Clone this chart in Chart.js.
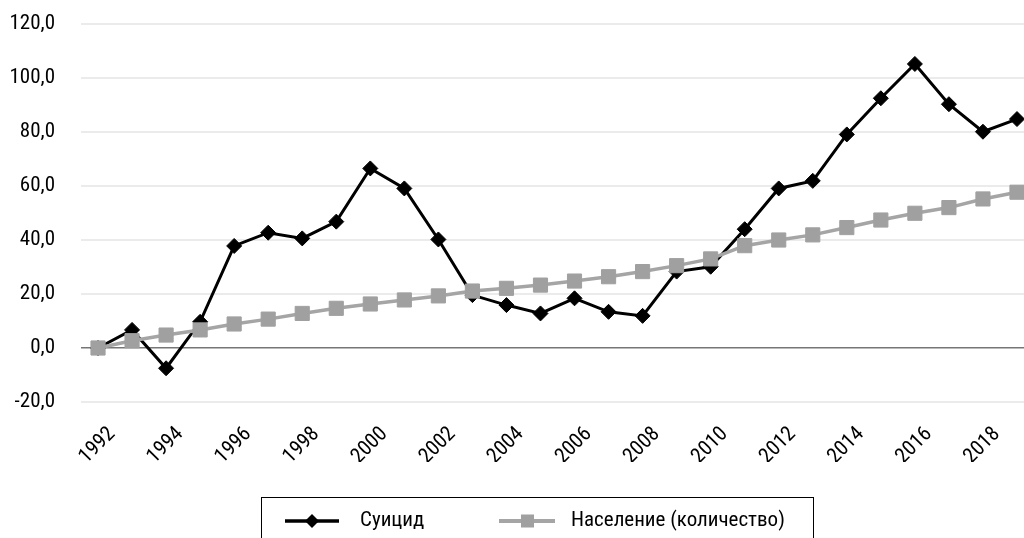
<!DOCTYPE html>
<html>
<head>
<meta charset="utf-8">
<script src="https://cdn.jsdelivr.net/npm/chart.js@4.4.0/dist/chart.umd.min.js"></script>
<style>
  html, body { margin: 0; padding: 0; background: #fff; overflow: hidden; width: 1024px; height: 538px; }
  canvas { position: absolute; left: 0; top: 0; }
</style>
</head>
<body>
<canvas id="chartCanvas" width="1047" height="560"></canvas>
<script>
// данные (годы 1992-2019)
const years = [1992, 1993, 1994, 1995, 1996, 1997, 1998, 1999, 2000, 2001, 2002, 2003, 2004, 2005,
               2006, 2007, 2008, 2009, 2010, 2011, 2012, 2013, 2014, 2015, 2016, 2017, 2018, 2019];
const suicide = [0, 6.7, -7.5, 9.7, 37.8, 42.7, 40.6, 46.8, 66.5, 59.1, 40.2, 19.6, 15.9, 12.8,
                 18.4, 13.4, 11.9, 28.3, 30.1, 44.0, 59.1, 61.9, 79.1, 92.5, 105.2, 90.3, 80.1, 84.8];
const population = [0, 2.7, 4.8, 6.7, 8.9, 10.7, 12.8, 14.7, 16.3, 17.8, 19.3, 21.1, 22.1, 23.3,
                    24.8, 26.4, 28.3, 30.5, 33.0, 37.9, 40.0, 41.9, 44.6, 47.4, 49.9, 52.0, 55.2, 57.7];
const seriesNames = ['Суицид', 'Население (количество)'];
const yMin = -20, yMax = 120, yStep = 20;

// узкий шрифт: Roboto с font-stretch condensed (через поле weight)
const FONT = 'Roboto, sans-serif';
const STRETCH = 'condensed';
const BLACK = '#000000';
const GRAY = '#a5a5a5';

// легенда в рамке (рисуем сами, как в Excel)
const legendBox = {
  id: 'legendBox',
  afterDraw(chart) {
    const c = chart.ctx;
    const ds = chart.data.datasets;
    c.save();
    c.strokeStyle = '#000';
    c.lineWidth = 1;
    c.strokeRect(261.5, 497.5, 552, 60);

    const cy = 521;
    // Суицид
    c.strokeStyle = ds[1].borderColor;
    c.lineWidth = 3.5;
    c.beginPath(); c.moveTo(285, cy); c.lineTo(339, cy); c.stroke();
    c.fillStyle = ds[1].backgroundColor;
    c.beginPath();
    c.moveTo(312, cy - 7); c.lineTo(319, cy); c.lineTo(312, cy + 7); c.lineTo(305, cy);
    c.closePath(); c.fill();
    // Население
    c.strokeStyle = ds[0].borderColor;
    c.lineWidth = 4;
    c.beginPath(); c.moveTo(499, cy); c.lineTo(555, cy); c.stroke();
    c.fillStyle = ds[0].backgroundColor;
    c.fillRect(521, cy - 6.5, 13, 13);

    c.fillStyle = '#000';
    c.font = STRETCH + ' 21px ' + FONT;
    c.textBaseline = 'middle';
    c.fillText(ds[1].label, 360, cy);
    c.fillText(ds[0].label, 571, cy);
    c.restore();
  }
};

const ctx = document.getElementById('chartCanvas').getContext('2d');
new Chart(ctx, {
  type: 'line',
  data: {
    labels: years.map(String),
    datasets: [
      {
        label: seriesNames[1],
        data: population,
        borderColor: GRAY,
        backgroundColor: '#a0a0a0',
        borderWidth: 3.5,
        pointStyle: 'rect',
        pointRadius: 10,
        pointBorderWidth: 1,
        pointBorderColor: '#a0a0a0',
        pointBackgroundColor: '#a0a0a0',
        tension: 0
      },
      {
        label: seriesNames[0],
        data: suicide,
        borderColor: BLACK,
        backgroundColor: BLACK,
        borderWidth: 3,
        pointStyle: 'rectRot',
        pointRadius: 7.5,
        pointBorderWidth: 1,
        pointBorderColor: BLACK,
        pointBackgroundColor: BLACK,
        tension: 0
      }
    ]
  },
  options: {
    responsive: false,
    animation: false,
    layout: { padding: { top: 24, left: 0, right: 0, bottom: 98 } },
    plugins: {
      legend: { display: false },
      tooltip: { enabled: false }
    },
    scales: {
      x: {
        offset: true,
        grid: { display: false },
        border: { display: false },
        ticks: {
          autoSkip: false,
          maxRotation: 45,
          minRotation: 45,
          padding: 12,
          labelOffset: 14,
          color: '#000',
          font: { family: FONT, size: 21, weight: STRETCH },
          callback: (v, i) => (i % 2 === 0 ? String(years[i]) : '')
        },
        afterFit: s => { s.height = 60; }
      },
      y: {
        min: yMin,
        max: yMax,
        border: { display: false },
        grid: {
          drawTicks: true,
          tickLength: 26,
          tickColor: 'rgba(0,0,0,0)',
          color: c => (c.tick && c.tick.value === 0 ? '#767676' : '#ebebeb'),
          lineWidth: c => (c.tick && c.tick.value === 0 ? 1.5 : 2)
        },
        ticks: {
          stepSize: yStep,
          padding: 0,
          color: '#000',
          font: { family: FONT, size: 21, weight: STRETCH },
          callback: v => v.toFixed(1).replace('.', ',')
        },
        afterFit: s => { s.width = 81; }
      }
    }
  },
  plugins: [legendBox]
});
</script>
</body>
</html>
